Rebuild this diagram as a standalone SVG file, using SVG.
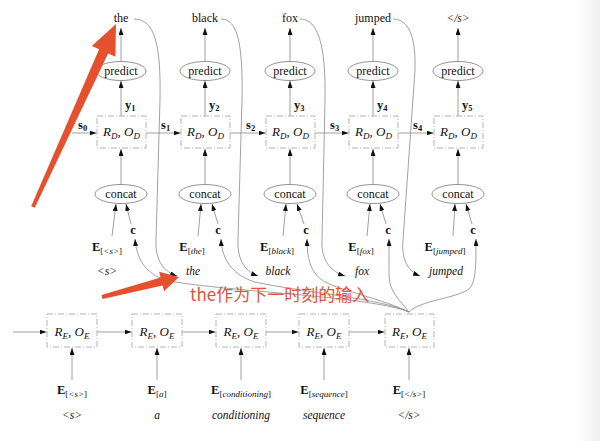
<svg xmlns="http://www.w3.org/2000/svg" width="600" height="441" viewBox="0 0 600 441">
<defs>
<marker id="ah" viewBox="0 0 7 5" refX="7" refY="2.5" markerWidth="7" markerHeight="5" markerUnits="userSpaceOnUse" orient="auto"><path d="M0,0 L7,2.5 L0,5 z" fill="#111"/></marker>
<linearGradient id="edge" x1="0" y1="0" x2="1" y2="0"><stop offset="0" stop-color="#ffffff"/><stop offset="1" stop-color="#efefef"/></linearGradient>
</defs>
<style>
text{font-family:"Liberation Serif","DejaVu Serif",serif;fill:#111}
.w{font-size:12px}
.it{font-size:11.5px;font-style:italic}
.rd{font-size:13px;font-style:italic}
.b{font-size:12.5px;font-weight:bold}
.sub{font-size:9px}
.bsub{font-size:8.5px;font-weight:bold}
.box{fill:none;stroke:#aaa;stroke-width:0.9;stroke-dasharray:6 2 1 2}
.el{fill:#fff;stroke:#777;stroke-width:0.8}
.ln{fill:none;stroke:#888;stroke-width:0.8;marker-end:url(#ah)}
.cv{fill:none;stroke:#8a8a8a;stroke-width:0.8;marker-end:url(#ah)}
.red{fill:#e5512e}
.rt{font-family:"Noto Sans CJK SC","Noto Sans",sans-serif;font-size:17px;fill:#e0533d}
</style>
<rect x="0" y="0" width="600" height="441" fill="#fff"/>
<rect x="578" y="0" width="22" height="441" fill="url(#edge)"/>

<g id="connectors">
<line class="ln" x1="121" y1="61" x2="121" y2="28"/>
<line class="ln" x1="205" y1="61" x2="205" y2="28"/>
<line class="ln" x1="290" y1="61" x2="290" y2="28"/>
<line class="ln" x1="373" y1="61" x2="373" y2="28"/>
<line class="ln" x1="458" y1="61" x2="458" y2="28"/>
<line class="ln" x1="121" y1="116" x2="121" y2="81"/>
<line class="ln" x1="205" y1="116" x2="205" y2="81"/>
<line class="ln" x1="290" y1="116" x2="290" y2="81"/>
<line class="ln" x1="373" y1="116" x2="373" y2="81"/>
<line class="ln" x1="458" y1="116" x2="458" y2="81"/>
<line class="ln" x1="121" y1="184" x2="121" y2="149"/>
<line class="ln" x1="205" y1="184" x2="205" y2="149"/>
<line class="ln" x1="290" y1="184" x2="290" y2="149"/>
<line class="ln" x1="373" y1="184" x2="373" y2="149"/>
<line class="ln" x1="458" y1="184" x2="458" y2="149"/>
<line class="ln" x1="72" y1="133" x2="96.5" y2="133"/>
<line class="ln" x1="146" y1="133" x2="180.5" y2="133"/>
<line class="ln" x1="230" y1="133" x2="265.5" y2="133"/>
<line class="ln" x1="315" y1="133" x2="348.5" y2="133"/>
<line class="ln" x1="398" y1="133" x2="433.5" y2="133"/>
<line class="ln" x1="112" y1="236" x2="116" y2="204"/>
<line class="ln" x1="198" y1="236" x2="201" y2="204"/>
<line class="ln" x1="283" y1="236" x2="286" y2="204"/>
<line class="ln" x1="367" y1="236" x2="370" y2="204"/>
<line class="ln" x1="453" y1="236" x2="455" y2="204"/>
<line class="ln" x1="131" y1="224" x2="126" y2="204"/>
<line class="ln" x1="218" y1="224" x2="212" y2="204"/>
<line class="ln" x1="304" y1="224" x2="297" y2="204"/>
<line class="ln" x1="386" y1="224" x2="380" y2="204"/>
<line class="ln" x1="472" y1="224" x2="466" y2="204"/>
<path class="cv" d="M134,19 C155,19 161,45 160,100 L156,240 C155,262 165,272 177,276"/>
<path class="cv" d="M221,19 C238,19 243,45 242,100 L238,240 C237,262 247,272 258,276"/>
<path class="cv" d="M300,19 C318,19 326,45 325,100 L322,240 C321,262 332,272 345,276"/>
<path class="cv" d="M393,19 C410,19 416,40 415,70 L403,240 C401,262 410,272 420,276"/>
<path class="cv" d="M409,312 C370,296 230,292 170,281 C148,276 137,262 135,239"/>
<path class="cv" d="M409,312 C380,298 300,292 255,282 C235,276 222,262 221,239"/>
<path class="cv" d="M409,312 C385,300 340,290 325,282 C312,274 307,262 307,239"/>
<path class="cv" d="M409,312 C400,300 389,292 389,275 L389,239"/>
<path class="cv" d="M409,312 C420,300 460,298 470,288 C476,280 476,265 476,239"/>
<line class="ln" x1="13" y1="332" x2="46.5" y2="332"/>
<line class="ln" x1="97" y1="332" x2="131.5" y2="332"/>
<line class="ln" x1="182" y1="332" x2="215.5" y2="332"/>
<line class="ln" x1="266" y1="332" x2="298.5" y2="332"/>
<line class="ln" x1="349" y1="332" x2="384.5" y2="332"/>
<line class="ln" x1="72" y1="380" x2="72" y2="348"/>
<line class="ln" x1="157" y1="380" x2="157" y2="348"/>
<line class="ln" x1="241" y1="380" x2="241" y2="348"/>
<line class="ln" x1="324" y1="380" x2="324" y2="348"/>
<line class="ln" x1="409" y1="380" x2="409" y2="348"/>
</g>

<g id="top-words">
<text class="w" x="121" y="22" text-anchor="middle">the</text>
<text class="w" x="205" y="22" text-anchor="middle">black</text>
<text class="w" x="290" y="22" text-anchor="middle">fox</text>
<text class="w" x="373" y="22" text-anchor="middle">jumped</text>
<text class="it" x="458" y="22" text-anchor="middle" font-size="11">&lt;/s&gt;</text>
</g>

<g id="predict">
<ellipse class="el" cx="121" cy="71" rx="25" ry="9.5"/><text class="w" x="121" y="75" text-anchor="middle">predict</text>
<ellipse class="el" cx="205" cy="71" rx="25" ry="9.5"/><text class="w" x="205" y="75" text-anchor="middle">predict</text>
<ellipse class="el" cx="290" cy="71" rx="25" ry="9.5"/><text class="w" x="290" y="75" text-anchor="middle">predict</text>
<ellipse class="el" cx="373" cy="71" rx="25" ry="9.5"/><text class="w" x="373" y="75" text-anchor="middle">predict</text>
<ellipse class="el" cx="458" cy="71" rx="25" ry="9.5"/><text class="w" x="458" y="75" text-anchor="middle">predict</text>
</g>

<g id="y-labels">
<text class="b" x="125" y="109">y<tspan class="bsub" dy="2">1</tspan></text>
<text class="b" x="209" y="109">y<tspan class="bsub" dy="2">2</tspan></text>
<text class="b" x="294" y="109">y<tspan class="bsub" dy="2">3</tspan></text>
<text class="b" x="377" y="109">y<tspan class="bsub" dy="2">4</tspan></text>
<text class="b" x="462" y="109">y<tspan class="bsub" dy="2">5</tspan></text>
</g>

<g id="s-labels">
<text class="b" x="78" y="129">s<tspan class="bsub" dy="2">0</tspan></text>
<text class="b" x="161" y="129">s<tspan class="bsub" dy="2">1</tspan></text>
<text class="b" x="246" y="129">s<tspan class="bsub" dy="2">2</tspan></text>
<text class="b" x="330" y="129">s<tspan class="bsub" dy="2">3</tspan></text>
<text class="b" x="413" y="129">s<tspan class="bsub" dy="2">4</tspan></text>
</g>

<g id="decoder-cells">
<rect class="box" x="97" y="116" width="49" height="32"/><text class="rd" x="121.5" y="136" text-anchor="middle">R<tspan class="sub" dy="3">D</tspan><tspan dy="-3">, O</tspan><tspan class="sub" dy="3">D</tspan></text>
<rect class="box" x="181" y="116" width="49" height="32"/><text class="rd" x="205.5" y="136" text-anchor="middle">R<tspan class="sub" dy="3">D</tspan><tspan dy="-3">, O</tspan><tspan class="sub" dy="3">D</tspan></text>
<rect class="box" x="266" y="116" width="49" height="32"/><text class="rd" x="290.5" y="136" text-anchor="middle">R<tspan class="sub" dy="3">D</tspan><tspan dy="-3">, O</tspan><tspan class="sub" dy="3">D</tspan></text>
<rect class="box" x="349" y="116" width="49" height="32"/><text class="rd" x="373.5" y="136" text-anchor="middle">R<tspan class="sub" dy="3">D</tspan><tspan dy="-3">, O</tspan><tspan class="sub" dy="3">D</tspan></text>
<rect class="box" x="434" y="116" width="49" height="32"/><text class="rd" x="458.5" y="136" text-anchor="middle">R<tspan class="sub" dy="3">D</tspan><tspan dy="-3">, O</tspan><tspan class="sub" dy="3">D</tspan></text>
</g>

<g id="concat">
<ellipse class="el" cx="121" cy="194" rx="26" ry="9.5"/><text class="w" x="121" y="198" text-anchor="middle">concat</text>
<ellipse class="el" cx="205" cy="194" rx="26" ry="9.5"/><text class="w" x="205" y="198" text-anchor="middle">concat</text>
<ellipse class="el" cx="290" cy="194" rx="26" ry="9.5"/><text class="w" x="290" y="198" text-anchor="middle">concat</text>
<ellipse class="el" cx="373" cy="194" rx="26" ry="9.5"/><text class="w" x="373" y="198" text-anchor="middle">concat</text>
<ellipse class="el" cx="458" cy="194" rx="26" ry="9.5"/><text class="w" x="458" y="198" text-anchor="middle">concat</text>
</g>

<g id="c-labels">
<text class="b" x="133" y="234" text-anchor="middle">c</text>
<text class="b" x="218" y="234" text-anchor="middle">c</text>
<text class="b" x="306" y="234" text-anchor="middle">c</text>
<text class="b" x="388" y="234" text-anchor="middle">c</text>
<text class="b" x="473" y="234" text-anchor="middle">c</text>
</g>

<g id="decoder-embeddings">
<text class="b" x="107" y="251" text-anchor="middle" font-size="13">E<tspan class="sub" font-weight="normal" dy="3">[<tspan font-style="italic">&lt;s&gt;</tspan>]</tspan></text>
<text class="b" x="192" y="251" text-anchor="middle" font-size="13">E<tspan class="sub" font-weight="normal" dy="3">[<tspan font-style="italic">the</tspan>]</tspan></text>
<text class="b" x="277" y="251" text-anchor="middle" font-size="13">E<tspan class="sub" font-weight="normal" dy="3">[<tspan font-style="italic">black</tspan>]</tspan></text>
<text class="b" x="361" y="251" text-anchor="middle" font-size="13">E<tspan class="sub" font-weight="normal" dy="3">[<tspan font-style="italic">fox</tspan>]</tspan></text>
<text class="b" x="445" y="251" text-anchor="middle" font-size="13">E<tspan class="sub" font-weight="normal" dy="3">[<tspan font-style="italic">jumped</tspan>]</tspan></text>
</g>

<g id="decoder-inputs">
<text class="it" x="107" y="275" text-anchor="middle" font-size="10">&lt;s&gt;</text>
<text class="it" x="193" y="275" text-anchor="middle">the</text>
<text class="it" x="278" y="275" text-anchor="middle">black</text>
<text class="it" x="362" y="275" text-anchor="middle">fox</text>
<text class="it" x="446" y="275" text-anchor="middle">jumped</text>
</g>

<g id="encoder-cells">
<rect class="box" x="47" y="314" width="50" height="33"/><text class="rd" x="72" y="336" text-anchor="middle">R<tspan class="sub" dy="3">E</tspan><tspan dy="-3">, O</tspan><tspan class="sub" dy="3">E</tspan></text>
<rect class="box" x="132" y="314" width="50" height="33"/><text class="rd" x="157" y="336" text-anchor="middle">R<tspan class="sub" dy="3">E</tspan><tspan dy="-3">, O</tspan><tspan class="sub" dy="3">E</tspan></text>
<rect class="box" x="216" y="314" width="50" height="33"/><text class="rd" x="241" y="336" text-anchor="middle">R<tspan class="sub" dy="3">E</tspan><tspan dy="-3">, O</tspan><tspan class="sub" dy="3">E</tspan></text>
<rect class="box" x="299" y="314" width="50" height="33"/><text class="rd" x="324" y="336" text-anchor="middle">R<tspan class="sub" dy="3">E</tspan><tspan dy="-3">, O</tspan><tspan class="sub" dy="3">E</tspan></text>
<rect class="box" x="385" y="314" width="49" height="33"/><text class="rd" x="409.5" y="336" text-anchor="middle">R<tspan class="sub" dy="3">E</tspan><tspan dy="-3">, O</tspan><tspan class="sub" dy="3">E</tspan></text>
</g>

<g id="encoder-embeddings">
<text class="b" x="72" y="394" text-anchor="middle" font-size="13">E<tspan class="sub" font-weight="normal" dy="3">[<tspan font-style="italic">&lt;s&gt;</tspan>]</tspan></text>
<text class="b" x="157" y="394" text-anchor="middle" font-size="13">E<tspan class="sub" font-weight="normal" dy="3">[<tspan font-style="italic">a</tspan>]</tspan></text>
<text class="b" x="241" y="394" text-anchor="middle" font-size="13">E<tspan class="sub" font-weight="normal" dy="3">[<tspan font-style="italic">conditioning</tspan>]</tspan></text>
<text class="b" x="324" y="394" text-anchor="middle" font-size="13">E<tspan class="sub" font-weight="normal" dy="3">[<tspan font-style="italic">sequence</tspan>]</tspan></text>
<text class="b" x="409" y="394" text-anchor="middle" font-size="13">E<tspan class="sub" font-weight="normal" dy="3">[<tspan font-style="italic">&lt;/s&gt;</tspan>]</tspan></text>
</g>

<g id="encoder-inputs">
<text class="it" x="72" y="419" text-anchor="middle" font-size="10">&lt;s&gt;</text>
<text class="it" x="157" y="419" text-anchor="middle">a</text>
<text class="it" x="241" y="419" text-anchor="middle">conditioning</text>
<text class="it" x="324" y="419" text-anchor="middle">sequence</text>
<text class="it" x="409" y="419" text-anchor="middle" font-size="10">&lt;/s&gt;</text>
</g>

<g id="annotations">
<polygon class="red" points="31.2,206.2 99.1,49.2 91.8,45.9 116,24 115.4,56.7 108.1,53.4 34.8,207.8"/>
<polygon class="red" points="101.5,295.1 160.6,277.6 159.1,271.8 179,277 164.1,291.2 162.6,285.4 102.5,298.9"/>
<text class="rt" x="190" y="301">the作为下一时刻的输入</text>
</g>
</svg>
